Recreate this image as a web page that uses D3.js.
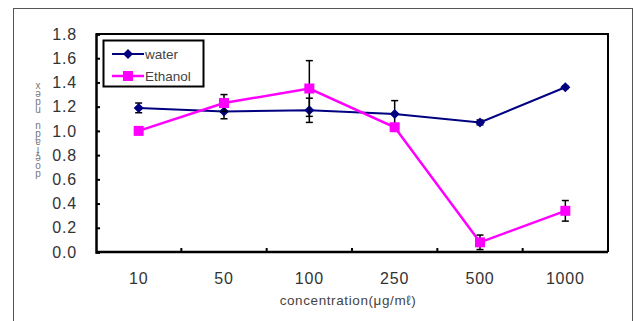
<!DOCTYPE html>
<html>
<head>
<meta charset="utf-8">
<script src="https://cdn.jsdelivr.net/npm/d3@7"></script>
<style>
  body { margin: 0; background: #fff; }
  svg { display: block; font-family: "Liberation Sans", "DejaVu Sans", sans-serif; }
</style>
</head>
<body>
<div id="chart"></div>
<script>
// data
const concentrations = ["10", "50", "100", "250", "500", "1000"];
const waterValues = [1.19, 1.16, 1.17, 1.14, 1.07, 1.36];
const waterErrors = [0.04, 0.06, 0.10, 0.11, 0.02, 0.01];
const ethanolValues = [1.00, 1.23, 1.35, 1.03, 0.08, 0.34];
const ethanolErrors = [0.01, 0.07, 0.23, 0.02, 0.06, 0.085];
const yTicks = [0, 0.2, 0.4, 0.6, 0.8, 1.0, 1.2, 1.4, 1.6, 1.8];
const yLabelText = "xəpu npɐɟəop";

const W = 634, H = 321;
const margin = { top: 34, right: 26, bottom: 69, left: 96 };
const width = W - margin.left - margin.right;
const height = H - margin.top - margin.bottom;

const svgRoot = d3.select("#chart").append("svg")
  .attr("width", W).attr("height", H);

// outer frame
svgRoot.append("rect")
  .attr("x", 13.5).attr("y", 8.5)
  .attr("width", 619).attr("height", 330)
  .attr("fill", "none").attr("stroke", "#555").attr("stroke-width", 1);

const svg = svgRoot.append("g")
  .attr("transform", `translate(${margin.left},${margin.top})`);

const x = d3.scaleBand().domain(concentrations).range([0, width]);
const y = d3.scaleLinear().domain([0, 1.8]).range([height, 0]);

// plot box (top + right)
svg.append("path")
  .attr("d", `M0,0H${width}V${height}`)
  .attr("fill", "none").attr("stroke", "#000").attr("stroke-width", 2);

// y axis, ticks pointing inward
const yAxis = svg.append("g")
  .call(d3.axisLeft(y).tickValues(yTicks).tickFormat(d3.format(".1f")).tickSize(-4).tickPadding(19));
yAxis.select(".domain").attr("stroke-width", 2.5);
yAxis.selectAll(".tick line").attr("stroke-width", 2);
yAxis.selectAll("text")
  .attr("font-size", 16).attr("fill", "#333")
  .attr("letter-spacing", 0.8)
  .attr("font-family", "'Liberation Sans', sans-serif");

// x axis, ticks at band boundaries pointing up
const xAxis = svg.append("g").attr("transform", `translate(0,${height})`);
xAxis.append("line")
  .attr("x1", 0).attr("x2", width)
  .attr("stroke", "#000").attr("stroke-width", 2.5);
xAxis.selectAll(".bt")
  .data(concentrations.slice(1))
  .enter().append("line")
  .attr("x1", d => x(d)).attr("x2", d => x(d))
  .attr("y1", 0).attr("y2", -4)
  .attr("stroke", "#000").attr("stroke-width", 2);
xAxis.selectAll(".lbl")
  .data(concentrations)
  .enter().append("text")
  .attr("x", d => x(d) + x.bandwidth() / 2)
  .attr("y", 32)
  .attr("text-anchor", "middle")
  .attr("font-size", 16).attr("fill", "#333")
  .attr("letter-spacing", 0.8)
  .text(d => d);

svg.append("text")
  .attr("x", width / 2 - 4)
  .attr("y", height + 53)
  .attr("text-anchor", "middle")
  .attr("font-size", 13.5).attr("fill", "#444")
  .attr("letter-spacing", 0.6)
  .text("concentration(μg/mℓ)");

// y label drawn as upright stacked glyphs
svgRoot.append("text")
  .attr("x", 38)
  .attr("y", 80)
  .style("writing-mode", "vertical-rl")
  .style("text-orientation", "upright")
  .attr("font-size", 10).attr("fill", "#777")
  .attr("letter-spacing", -3)
  .text(yLabelText);

const cx = d => x(d) + x.bandwidth() / 2;

// true diamond (square rotated 45°)
const diamond = { draw(ctx, size) { const r = Math.sqrt(size / 2); ctx.moveTo(0, -r); ctx.lineTo(r, 0); ctx.lineTo(0, r); ctx.lineTo(-r, 0); ctx.closePath(); } };

function drawSeries(values, errors, color, lw, shape, size) {
  const pts = concentrations.map((c, i) => ({ c, v: values[i], e: errors[i] }));
  const line = d3.line().x(d => cx(d.c)).y(d => y(d.v));
  svg.append("path")
    .datum(pts)
    .attr("d", line)
    .attr("fill", "none").attr("stroke", color).attr("stroke-width", lw);

  const eb = svg.append("g").attr("stroke", "#000").attr("stroke-width", 1.5);
  pts.forEach(d => {
    eb.append("line")
      .attr("x1", cx(d.c)).attr("x2", cx(d.c))
      .attr("y1", y(d.v - d.e)).attr("y2", y(d.v + d.e));
    [d.v - d.e, d.v + d.e].forEach(t => {
      eb.append("line")
        .attr("x1", cx(d.c) - 3.5).attr("x2", cx(d.c) + 3.5)
        .attr("y1", y(t)).attr("y2", y(t));
    });
  });

  svg.append("g").selectAll("path")
    .data(pts)
    .enter().append("path")
    .attr("transform", d => `translate(${cx(d.c)},${y(d.v)})`)
    .attr("d", d3.symbol().type(shape).size(size))
    .attr("fill", color);
}

drawSeries(waterValues, waterErrors, "#000080", 2, diamond, 50);
drawSeries(ethanolValues, ethanolErrors, "#FF00FF", 2.5, d3.symbolSquare, 100);

// legend
const legend = svgRoot.append("g").attr("transform", "translate(103,40)");
legend.append("rect")
  .attr("x", 0.5).attr("y", 0.5).attr("width", 100).attr("height", 46)
  .attr("fill", "#fff").attr("stroke", "#000").attr("stroke-width", 2);
const legendItems = [
  { name: "water", color: "#000080", lw: 2, shape: diamond, size: 50 },
  { name: "Ethanol", color: "#FF00FF", lw: 2.5, shape: d3.symbolSquare, size: 100 }
];
legendItems.forEach((it, i) => {
  const g = legend.append("g").attr("transform", `translate(0,${14 + i * 22})`);
  g.append("line").attr("x1", 9).attr("x2", 41)
    .attr("stroke", it.color).attr("stroke-width", it.lw);
  g.append("path").attr("transform", "translate(25,0)")
    .attr("d", d3.symbol().type(it.shape).size(it.size))
    .attr("fill", it.color);
  g.append("text").attr("x", 42).attr("y", 5)
    .attr("font-size", 13.5).attr("fill", "#444")
    .text(it.name);
});
</script>
</body>
</html>
